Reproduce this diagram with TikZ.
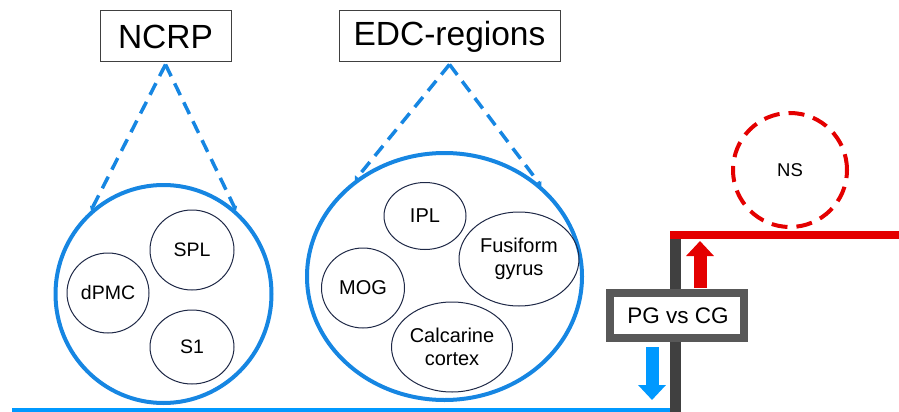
\documentclass[tikz,border=0pt]{standalone}
\usepackage{fontspec}
\setmainfont{Liberation Sans}
\usetikzlibrary{arrows.meta,shapes.geometric}
\definecolor{cblue}{RGB}{22,134,226}
\definecolor{lblue}{RGB}{0,153,255}
\definecolor{navy}{RGB}{30,40,70}
\definecolor{cred}{RGB}{228,0,0}
\definecolor{dgray}{RGB}{64,64,64}
\definecolor{bgray}{RGB}{88,88,88}
\tikzset{
  labbox/.style={draw=black!75, line width=1pt, fill=white, inner sep=0pt, font=\fontsize{33.5}{40}\selectfont},
  bigcirc/.style={draw=cblue, line width=4pt, ellipse, inner sep=0pt},
  incirc/.style={draw=navy, line width=1pt, ellipse, inner sep=0pt, align=center},
  smallfont/.style={font=\fontsize{19.5}{22}\selectfont},
  edcfont/.style={font=\fontsize{20}{22.5}\selectfont},
  dashline/.style={draw=cblue, line width=3.5pt, dash pattern=on 13pt off 8pt, -{Triangle[width=6pt,length=4pt]}},
  nscirc/.style={draw=cred, line width=4pt, dash pattern=on 16pt off 9pt, circle, inner sep=0pt, minimum size=114pt, font=\fontsize{18.5}{22}\selectfont},
  pgbox/.style={draw=bgray, line width=8pt, fill=white, inner sep=0pt, minimum width=134pt, minimum height=45pt, font=\fontsize{22.5}{26}\selectfont},
  blockarrow/.style={line width=13pt, -{Triangle[width=27pt,length=15pt]}}
}
\begin{document}
\begin{tikzpicture}[x=1pt,y=-1pt]
\useasboundingbox (0,0) rectangle (899,412);

% title boxes
\node[labbox, minimum width=131pt, minimum height=51pt] (ncrp) at (165.5,36.5) {NCRP};
\node[labbox, minimum width=221pt, minimum height=51pt] (edc) at (449.5,36.5) {EDC-regions};

% big regions
\node[bigcirc, minimum width=216pt, minimum height=218pt] (ncrpc) at (163.5,294) {};
\node[bigcirc, minimum width=275pt, minimum height=247pt] (edcc) at (444.5,276.5) {};

% dashed connectors
\draw[dashline] ([yshift=-2pt]ncrp.south) -- (ncrpc.131);
\draw[dashline] ([yshift=-2pt]ncrp.south) -- (ncrpc.49);
\draw[dashline] ([yshift=-2pt]edc.south) -- (edcc.133);
\draw[dashline] ([yshift=-2pt]edc.south) -- (edcc.43);

% NCRP inner regions
\node[incirc, smallfont, minimum width=84pt, minimum height=80pt] (spl) at (192,250) {SPL};
\node[incirc, smallfont, minimum width=82pt, minimum height=80pt] (dpmc) at (108,293) {dPMC};
\node[incirc, smallfont, minimum width=84pt, minimum height=74pt] (s1) at (192,347) {S1};

% EDC inner regions
\node[incirc, edcfont, minimum width=82pt, minimum height=67pt] (ipl) at (425,216) {IPL};
\node[incirc, edcfont, minimum width=120pt, minimum height=94pt] (fus) at (519,259) {Fusiform\\gyrus};
\node[incirc, edcfont, minimum width=83pt, minimum height=80pt] (mog) at (363,288) {MOG};
\node[incirc, edcfont, minimum width=121pt, minimum height=90pt] (calc) at (452,347) {Calcarine\\cortex};

% baseline and threshold lines
\coordinate (bl0) at (12,410);
\coordinate (bl1) at (681,410);
\draw[lblue, line width=5pt] (bl0) -- (bl1);
\coordinate (gtop) at (675.5,231);
\coordinate (gbot) at (675.5,412);
\draw[dgray, line width=11pt] (gtop) -- (gbot);
\coordinate (rl0) at (670,235);
\coordinate (rl1) at (899,235);
\draw[cred, line width=8pt] (rl0) -- (rl1);

% NS
\node[nscirc] (ns) at (790,170) {NS};

% PG vs CG box
\node[pgbox] (pg) at (677,315.5) {\hspace*{2pt}PG vs CG};

% arrows
\coordinate (ra0) at (700,288);
\coordinate (ra1) at (700,241);
\draw[blockarrow, cred] (ra0) -- (ra1);
\coordinate (ba0) at (652,347);
\coordinate (ba1) at (652,400);
\draw[blockarrow, lblue] (ba0) -- (ba1);
\end{tikzpicture}
\end{document}
